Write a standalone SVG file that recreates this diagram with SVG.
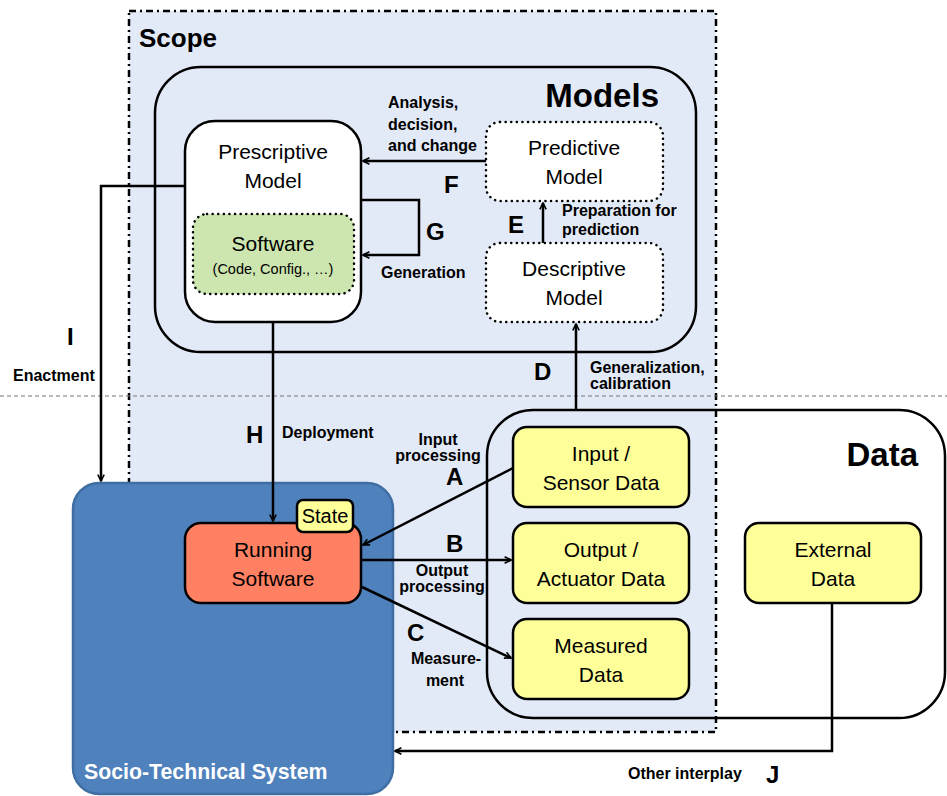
<svg xmlns="http://www.w3.org/2000/svg" width="947" height="796" viewBox="0 0 947 796">
<style>
text{font-family:"Liberation Sans","DejaVu Sans",sans-serif;fill:#000}
.n{font-size:21px;text-anchor:middle}
.b{font-weight:bold}
.lbl{font-size:16px;font-weight:bold}
.let{font-size:24px;font-weight:bold}
.big{font-size:33px;font-weight:bold}
.c{stroke:#000;stroke-width:2.5;fill:none}
.y{fill:#ffff99;stroke:#000;stroke-width:2.5}
.dot{stroke:#000;stroke-width:2.5;stroke-dasharray:0.1 5.5;stroke-linecap:round}
</style>
<defs>
<marker id="ah" viewBox="0 0 10 10" refX="9" refY="5" markerWidth="8" markerHeight="8" orient="auto" markerUnits="userSpaceOnUse">
<path d="M1,1 L9,5 L1,9" fill="none" stroke="#000" stroke-width="2"/>
</marker>
</defs>
<rect width="947" height="796" fill="#fff"/>
<g id="scope">
<rect x="129" y="11" width="587" height="721" fill="#e3eaf7" stroke="#000" stroke-width="2.5" stroke-dasharray="7 4 2 4"/>
<text x="139" y="47" class="b" style="font-size:26px">Scope</text>
</g>
<line x1="0" y1="396" x2="947" y2="396" stroke="#777" stroke-width="1.2" stroke-dasharray="4 3"/>
<g id="models">
<rect x="155" y="67" width="541" height="285" rx="46" class="c"/>
<text x="659" y="107" class="big" text-anchor="end">Models</text>
</g>
<g id="data">
<rect x="487" y="410" width="458" height="308" rx="46" class="c"/>
<text x="918" y="466" class="big" text-anchor="end">Data</text>
</g>
<g id="prescriptive">
<rect x="185" y="121" width="176" height="201" rx="30" fill="#fff" stroke="#000" stroke-width="2.5"/>
<text x="273" y="159" class="n">Prescriptive</text>
<text x="273" y="188" class="n">Model</text>
</g>
<g id="software">
<rect x="193" y="214" width="161" height="80" rx="14" fill="#cde6b0" class="dot"/>
<text x="273" y="251" class="n">Software</text>
<text x="273" y="274" class="n" style="font-size:14.5px">(Code, Config., …)</text>
</g>
<g id="predictive">
<rect x="486" y="122" width="177" height="79" rx="14" fill="#fff" class="dot"/>
<text x="574" y="155" class="n">Predictive</text>
<text x="574" y="184" class="n">Model</text>
</g>
<g id="descriptive">
<rect x="486" y="243" width="177" height="79" rx="14" fill="#fff" class="dot"/>
<text x="574" y="276" class="n">Descriptive</text>
<text x="574" y="305" class="n">Model</text>
</g>
<g id="sociotech">
<rect x="73" y="483" width="320" height="311" rx="26" fill="#4f81bd" stroke="#3f6ea3" stroke-width="2.5"/>
<text x="84" y="779" class="b" style="font-size:21.3px;fill:#fff">Socio-Technical System</text>
</g>
<g id="running">
<rect x="185" y="523" width="176" height="80" rx="16" fill="#ff8062" stroke="#000" stroke-width="2.5"/>
<text x="273" y="557" class="n">Running</text>
<text x="273" y="586" class="n">Software</text>
</g>
<g id="state">
<rect x="297" y="500" width="56" height="32" rx="6" class="y"/>
<text x="325" y="523" class="n" style="font-size:20px">State</text>
</g>
<g id="input">
<rect x="513" y="427" width="176" height="80" rx="14" class="y"/>
<text x="601" y="461" class="n">Input /</text>
<text x="601" y="490" class="n">Sensor Data</text>
</g>
<g id="output">
<rect x="513" y="523" width="176" height="80" rx="14" class="y"/>
<text x="601" y="557" class="n">Output /</text>
<text x="601" y="586" class="n">Actuator Data</text>
</g>
<g id="measured">
<rect x="513" y="619" width="176" height="80" rx="14" class="y"/>
<text x="601" y="653" class="n">Measured</text>
<text x="601" y="682" class="n">Data</text>
</g>
<g id="external">
<rect x="745" y="523" width="176" height="80" rx="14" class="y"/>
<text x="833" y="557" class="n">External</text>
<text x="833" y="586" class="n">Data</text>
</g>
<g id="connectors">
<line x1="486" y1="161" x2="363" y2="161" class="c" marker-end="url(#ah)"/>
<polyline points="361,200 419,200 419,255 363,255" class="c" marker-end="url(#ah)"/>
<line x1="543" y1="243" x2="543" y2="203" class="c" marker-end="url(#ah)"/>
<line x1="576" y1="410" x2="576" y2="324" class="c" marker-end="url(#ah)"/>
<polyline points="185,186 101,186 101,481" class="c" marker-end="url(#ah)"/>
<line x1="273" y1="322" x2="273" y2="521" class="c" marker-end="url(#ah)"/>
<line x1="513" y1="468" x2="363" y2="545" class="c" marker-end="url(#ah)"/>
<line x1="361" y1="560" x2="511" y2="560" class="c" marker-end="url(#ah)"/>
<line x1="362" y1="587" x2="511" y2="658" class="c" marker-end="url(#ah)"/>
<polyline points="832,604 832,751 395,751" class="c" marker-end="url(#ah)"/>
<text x="388" y="108" class="lbl">Analysis,</text>
<text x="388" y="130" class="lbl">decision,</text>
<text x="388" y="151" class="lbl">and change</text>
<text x="444" y="193" class="let">F</text>
<text x="426" y="240" class="let">G</text>
<text x="381" y="278" class="lbl">Generation</text>
<text x="508" y="233" class="let">E</text>
<text x="562" y="216" class="lbl">Preparation for</text>
<text x="562" y="235" class="lbl">prediction</text>
<text x="534" y="380" class="let">D</text>
<text x="590" y="373" class="lbl">Generalization,</text>
<text x="590" y="389" class="lbl">calibration</text>
<text x="67" y="345" class="let">I</text>
<text x="13" y="381" class="lbl">Enactment</text>
<text x="246" y="443" class="let">H</text>
<text x="282" y="438" class="lbl">Deployment</text>
<text x="438" y="445" class="lbl" text-anchor="middle">Input</text>
<text x="438" y="461" class="lbl" text-anchor="middle">processing</text>
<text x="446" y="485" class="let">A</text>
<text x="446" y="552" class="let">B</text>
<text x="442" y="576" class="lbl" text-anchor="middle">Output</text>
<text x="442" y="592" class="lbl" text-anchor="middle">processing</text>
<text x="407" y="641" class="let">C</text>
<text x="446" y="664" class="lbl" text-anchor="middle">Measure-</text>
<text x="445" y="686" class="lbl" text-anchor="middle">ment</text>
<text x="628" y="779" class="lbl">Other interplay</text>
<text x="766" y="783" class="let">J</text>
</g>
</svg>
